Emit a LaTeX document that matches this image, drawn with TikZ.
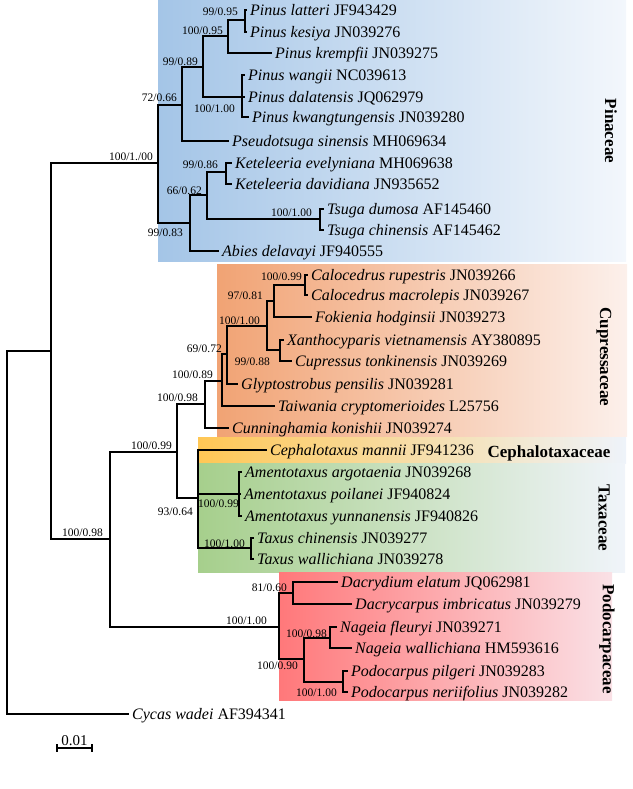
\documentclass[tikz,border=0pt]{standalone}
\usepackage{fontspec}
\setmainfont{Liberation Serif}
\definecolor{pinL}{RGB}{164,197,231}
\definecolor{pinR}{RGB}{243,247,252}
\definecolor{cupL}{RGB}{241,163,116}
\definecolor{cupR}{RGB}{252,240,235}
\definecolor{cepL}{RGB}{255,199,85}
\definecolor{cepR}{RGB}{238,243,250}
\definecolor{taxL}{RGB}{166,207,140}
\definecolor{taxR}{RGB}{240,244,250}
\definecolor{podL}{RGB}{255,120,122}
\definecolor{podR}{RGB}{250,225,230}
\begin{document}
\begin{tikzpicture}[x=1pt,y=-1pt,
  br/.style={line width=2.4pt, line join=miter},
  tip/.style={anchor=west, inner xsep=3pt, inner ysep=0pt, text height=10.5pt, text depth=0pt, font=\fontsize{16}{16}\selectfont},
  bs/.style={anchor=east, inner sep=0pt, text height=8pt, text depth=0pt, font=\fontsize{11.5}{11.5}\selectfont},
  grp/.style={inner sep=0pt, font=\fontsize{17}{17}\selectfont\bfseries}]
\useasboundingbox (0,0) rectangle (632,789);
% backgrounds
\shade[left color=pinL, right color=pinR] (158,0) rectangle (626,261);
\shade[left color=cupL, right color=cupR] (217,264) rectangle (627,436);
\shade[left color=cepL, right color=cepR] (198,437) rectangle (626,463);
\shade[left color=taxL, right color=taxR] (198,463) rectangle (625,572);
\shade[left color=podL, right color=podR] (279,572) rectangle (612,700);
% internal nodes
\coordinate (R) at (7,532);
\coordinate (A) at (51,351);
\coordinate (Pin) at (158,163);
\coordinate (P72) at (182,105);
\coordinate (P9989) at (203,67);
\coordinate (P10095) at (228,36);
\coordinate (P9995) at (245,20);
\coordinate (P10100) at (242,97);
\coordinate (P9983) at (190,223);
\coordinate (P6662) at (207,195);
\coordinate (P9986) at (226,172);
\coordinate (PTs) at (320,219);
\coordinate (B) at (110,539);
\coordinate (C) at (177,452);
\coordinate (D) at (279,627);
\coordinate (E) at (205,404);
\coordinate (F) at (198,498);
\coordinate (G) at (222,381);
\coordinate (H) at (227,354);
\coordinate (I) at (267,326);
\coordinate (J) at (274,301);
\coordinate (K) at (280,350);
\coordinate (L) at (305,285);
\coordinate (M) at (239,494);
\coordinate (N) at (251,548);
\coordinate (O) at (293,593);
\coordinate (P) at (304,659);
\coordinate (Q) at (330,638);
\coordinate (S) at (343,682);
% tips
\node[tip] (latteri) at (247,10) {\textit{Pinus latteri} JF943429};
\node[tip] (kesiya) at (247,32) {\textit{Pinus kesiya} JN039276};
\node[tip] (krempfii) at (272,53) {\textit{Pinus krempfii} JN039275};
\node[tip] (wangii) at (245,75) {\textit{Pinus wangii} NC039613};
\node[tip] (dalat) at (245,97) {\textit{Pinus dalatensis} JQ062979};
\node[tip] (kwang) at (249,117) {\textit{Pinus kwangtungensis} JN039280};
\node[tip] (pseudo) at (229,141) {\textit{Pseudotsuga sinensis} MH069634};
\node[tip] (ketev) at (232,163) {\textit{Keteleeria evelyniana} MH069638};
\node[tip] (ketda) at (232,184) {\textit{Keteleeria davidiana} JN935652};
\node[tip] (tsdu) at (324,209) {\textit{Tsuga dumosa} AF145460};
\node[tip] (tsch) at (324,230) {\textit{Tsuga chinensis} AF145462};
\node[tip] (abies) at (219,251) {\textit{Abies delavayi} JF940555};
\node[tip] (calru) at (308,275) {\textit{Calocedrus rupestris} JN039266};
\node[tip] (calma) at (308,295) {\textit{Calocedrus macrolepis} JN039267};
\node[tip] (fok) at (312,317) {\textit{Fokienia hodginsii} JN039273};
\node[tip] (xan) at (284,340) {\textit{Xanthocyparis vietnamensis} AY380895};
\node[tip] (cup) at (292,361) {\textit{Cupressus tonkinensis} JN039269};
\node[tip] (gly) at (238,384) {\textit{Glyptostrobus pensilis} JN039281};
\node[tip] (tai) at (275,406) {\textit{Taiwania cryptomerioides} L25756};
\node[tip] (cun) at (229,428) {\textit{Cunninghamia konishii} JN039274};
\node[tip] (cep) at (267,450) {\textit{Cephalotaxus mannii} JF941236};
\node[tip] (amar) at (242,472) {\textit{Amentotaxus argotaenia} JN039268};
\node[tip] (ampo) at (241,494) {\textit{Amentotaxus poilanei} JF940824};
\node[tip] (amyu) at (242,516) {\textit{Amentotaxus yunnanensis} JF940826};
\node[tip] (taxch) at (254,538) {\textit{Taxus chinensis} JN039277};
\node[tip] (taxwa) at (254,559) {\textit{Taxus wallichiana} JN039278};
\node[tip] (dacel) at (338,582) {\textit{Dacrydium elatum} JQ062981};
\node[tip] (dacim) at (352,604) {\textit{Dacrycarpus imbricatus} JN039279};
\node[tip] (nagfl) at (337,627) {\textit{Nageia fleuryi} JN039271};
\node[tip] (nagwa) at (352,648) {\textit{Nageia wallichiana} HM593616};
\node[tip] (podpi) at (348,671) {\textit{Podocarpus pilgeri} JN039283};
\node[tip] (podne) at (348,692) {\textit{Podocarpus neriifolius} JN039282};
\node[tip] (cycas) at (129,714) {\textit{Cycas wadei} AF394341};
% branches
\draw[br] (R) |- (A) (R) |- (cycas);
\draw[br] (A) |- (Pin) (A) |- (B);
\draw[br] (Pin) |- (P72) (Pin) |- (P9983);
\draw[br] (P72) |- (P9989) (P72) |- (pseudo);
\draw[br] (P9989) |- (P10095) (P9989) |- (P10100);
\draw[br] (P10095) |- (P9995) (P10095) |- (krempfii);
\draw[br] (P9995) |- (latteri) (P9995) |- (kesiya);
\draw[br] (P10100) |- (wangii) (P10100) |- (dalat) (P10100) |- (kwang);
\draw[br] (P9983) |- (P6662) (P9983) |- (abies);
\draw[br] (P6662) |- (P9986) (P6662) |- (PTs);
\draw[br] (P9986) |- (ketev) (P9986) |- (ketda);
\draw[br] (PTs) |- (tsdu) (PTs) |- (tsch);
\draw[br] (B) |- (C) (B) |- (D);
\draw[br] (C) |- (E) (C) |- (F);
\draw[br] (E) |- (G) (E) |- (cun);
\draw[br] (G) |- (H) (G) |- (tai);
\draw[br] (H) |- (I) (H) |- (gly);
\draw[br] (I) |- (J) (I) |- (K);
\draw[br] (J) |- (L) (J) |- (fok);
\draw[br] (L) |- (calru) (L) |- (calma);
\draw[br] (K) |- (xan) (K) |- (cup);
\draw[br] (F) |- (cep) (F) |- (M) (F) |- (N);
\draw[br] (M) |- (amar) (M) |- (ampo) (M) |- (amyu);
\draw[br] (N) |- (taxch) (N) |- (taxwa);
\draw[br] (D) |- (O) (D) |- (P);
\draw[br] (O) |- (dacel) (O) |- (dacim);
\draw[br] (P) |- (Q) (P) |- (S);
\draw[br] (Q) |- (nagfl) (Q) |- (nagwa);
\draw[br] (S) |- (podpi) (S) |- (podne);
% support labels
\node[bs] (l1) at (238,12) {99/0.95};
\node[bs] (l2) at (223,31) {100/0.95};
\node[bs] (l3) at (198,62) {99/0.89};
\node[bs] (l4) at (177,98) {72/0.66};
\node[bs] (l5) at (235,109) {100/1.00};
\node[bs] (l6) at (153,156) {100/1./00};
\node[bs] (l7) at (218,164) {99/0.86};
\node[bs] (l8) at (202,190) {66/0.62};
\node[bs] (l9) at (183,232) {99/0.83};
\node[bs] (l10) at (312,212) {100/1.00};
\node[bs] (l11) at (103,532) {100/0.98};
\node[bs] (l12) at (172,445) {100/0.99};
\node[bs] (l13) at (198,397) {100/0.98};
\node[bs] (l14) at (213,374) {100/0.89};
\node[bs] (l15) at (222,348) {69/0.72};
\node[bs] (l16) at (260,320) {100/1.00};
\node[bs] (l17) at (263,295) {97/0.81};
\node[bs] (l18) at (302,276) {100/0.99};
\node[bs] (l19) at (270,361) {99/0.88};
\node[bs] (l20) at (193,511) {93/0.64};
\node[bs] (l21) at (239,503) {100/0.99};
\node[bs] (l22) at (245,543) {100/1.00};
\node[bs] (l23) at (267,620) {100/1.00};
\node[bs] (l24) at (287,587) {81/0.60};
\node[bs] (l25) at (327,633) {100/0.98};
\node[bs] (l26) at (298,665) {100/0.90};
\node[bs] (l27) at (337,692) {100/1.00};
% group labels
\node[grp, rotate=-90] (gpin) at (611,131) {Pinaceae};
\node[grp, rotate=-90] (gcup) at (604,357) {Cupressaceae};
\node[grp] (gcep) at (549,453) {Cephalotaxaceae};
\node[grp, rotate=-90] (gtax) at (604,518) {Taxaceae};
\node[grp, rotate=-90] (gpod) at (607,639) {Podocarpaceae};
% scale bar
\coordinate (sb1) at (57,748);
\coordinate (sb2) at (92,748);
\draw[line width=1.8pt] (sb1) -- (sb2);
\draw[line width=1.8pt] ([yshift=4pt]sb1) -- ([yshift=-4pt]sb1);
\draw[line width=1.8pt] ([yshift=4pt]sb2) -- ([yshift=-4pt]sb2);
\node[inner sep=0pt, font=\fontsize{15}{15}\selectfont] (sbl) at (74.5,741) {0.01};
\end{tikzpicture}
\end{document}
